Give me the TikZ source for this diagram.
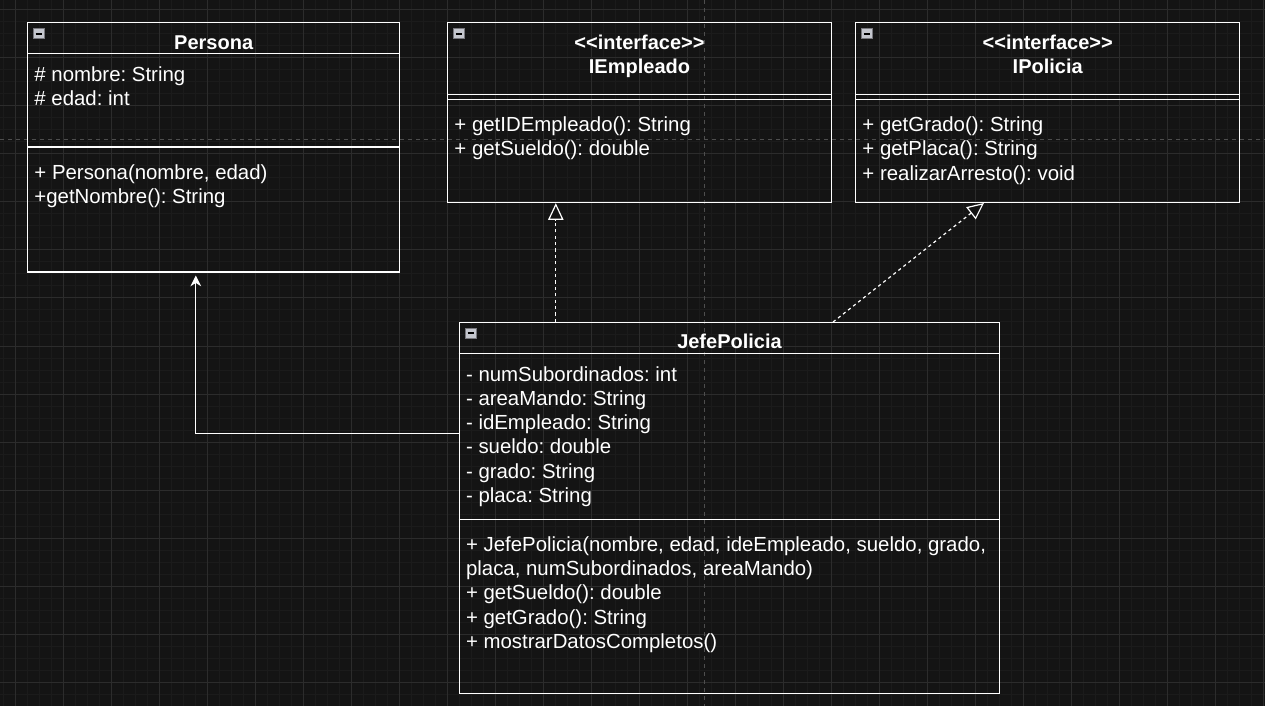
\documentclass[tikz,border=0pt]{standalone}
\usepackage{fontspec}
\setmainfont{Liberation Sans}
\usetikzlibrary{arrows.meta,fit}
\frenchspacing
\definecolor{bg}{RGB}{20,20,20}
\definecolor{gridminor}{RGB}{27,27,27}
\definecolor{gridmajor}{RGB}{44,44,44}
\definecolor{pagebreak}{RGB}{78,78,78}
\definecolor{iconfill}{RGB}{196,198,206}
\definecolor{iconedge}{RGB}{120,120,126}
\tikzset{
  umlbox/.style={draw=white, line width=1pt, inner sep=0pt, fill=none},
  sepline/.style={draw=white, line width=1pt},
  mtext/.style={text=white, inner sep=0pt, font=\fontsize{15.3}{18}\selectfont},
  ttext/.style={text=white, inner sep=0pt, font=\fontsize{15}{18}\selectfont\bfseries},
  iconbox/.style={fill=iconfill, draw=iconedge, line width=0.6pt},
  inherit/.style={draw=white, line width=0.9pt, -{Stealth[length=8pt,width=8pt,inset=2.5pt,fill=white]}},
  realize/.style={draw=white, line width=0.9pt, dash pattern=on 2.4pt off 2.4pt,
    -{Triangle[open,length=12.5pt,width=11.5pt,fill=bg,line width=0.9pt]}},
}
\newcommand\collapseicon[2]{%
  \draw[iconbox] (#1,#2) rectangle ++(11,10);
  \draw[black, line width=1.3pt] (#1+2.5,#2+5) -- ++(6,0);
}
\begin{document}
\begin{tikzpicture}[x=0.75pt,y=-0.75pt]
\fill[bg] (0,0) rectangle (1265,706);
\useasboundingbox (0,0) rectangle (1265,706);
% grid
\foreach \x in {3.3,15.3,...,1265} \draw[gridminor,line width=0.75pt] (\x,0) -- (\x,706);
\foreach \y in {10,22,...,706} \draw[gridminor,line width=0.75pt] (0,\y) -- (1265,\y);
\foreach \x in {15.3,63.3,...,1265} \draw[gridmajor,line width=0.75pt] (\x,0) -- (\x,706);
\foreach \y in {10,58,...,706} \draw[gridmajor,line width=0.75pt] (0,\y) -- (1265,\y);
% page breaks
\draw[pagebreak,line width=0.75pt,dash pattern=on 3pt off 3pt] (0,139.3) -- (1265,139.3);
\draw[pagebreak,line width=0.75pt,dash pattern=on 3pt off 3pt] (704.3,0) -- (704.3,706);

% ---------- Persona ----------
\node[umlbox, fit={(27.7,22.7) (399.7,272)}] (persona) {};
\draw[sepline] (persona.west |- 0,53.3) -- (persona.east |- 0,53.3);
\draw[sepline] (persona.west |- 0,147) -- (persona.east |- 0,147);
\collapseicon{33}{28.7}
\node[ttext, anchor=base] (persona-t) at (213.7,49.5) {Persona};
\node[mtext, anchor=base west] (persona-a1) at (34.2,81.3) {\# nombre: String};
\node[mtext, anchor=base west] (persona-a2) at (34.2,105.3) {\# edad: int};
\node[mtext, anchor=base west] (persona-m1) at (34.2,179.5) {+ Persona(nombre, edad)};
\node[mtext, anchor=base west] (persona-m2) at (34.2,203.5) {+getNombre(): String};

% ---------- IEmpleado ----------
\node[umlbox, fit={(447.7,22.3) (831.3,202.5)}] (iemp) {};
\draw[sepline] (iemp.west |- 0,94.3) -- (iemp.east |- 0,94.3);
\draw[sepline] (iemp.west |- 0,99.3) -- (iemp.east |- 0,99.3);
\collapseicon{453.3}{28.7}
\node[ttext, anchor=base] (iemp-s) at (639.5,49.3) {<\kern0pt<interface>\kern0pt>};
\node[ttext, anchor=base] (iemp-t) at (639.5,73.3) {IEmpleado};
\node[mtext, anchor=base west] (iemp-m1) at (454.2,131.5) {+ getIDEmpleado(): String};
\node[mtext, anchor=base west] (iemp-m2) at (454.2,156) {+ getSueldo(): double};

% ---------- IPolicia ----------
\node[umlbox, fit={(855.7,22.3) (1239.7,202.3)}] (ipol) {};
\draw[sepline] (ipol.west |- 0,94.3) -- (ipol.east |- 0,94.3);
\draw[sepline] (ipol.west |- 0,99.3) -- (ipol.east |- 0,99.3);
\collapseicon{861.3}{28.7}
\node[ttext, anchor=base] (ipol-s) at (1047.7,49.3) {<\kern0pt<interface>\kern0pt>};
\node[ttext, anchor=base] (ipol-t) at (1047.7,73.3) {IPolicia};
\node[mtext, anchor=base west] (ipol-m1) at (862.2,131.5) {+ getGrado(): String};
\node[mtext, anchor=base west] (ipol-m2) at (862.2,156) {+ getPlaca(): String};
\node[mtext, anchor=base west] (ipol-m3) at (862.2,180.5) {+ realizarArresto(): void};

% ---------- JefePolicia ----------
\node[umlbox, fit={(459.2,322.7) (999.7,693.7)}] (jefe) {};
\draw[sepline] (jefe.west |- 0,353.3) -- (jefe.east |- 0,353.3);
\draw[sepline] (jefe.west |- 0,519.3) -- (jefe.east |- 0,519.3);
\collapseicon{465}{328.3}
\node[ttext, anchor=base] (jefe-t) at (729.5,349) {JefePolicia};
\node[mtext, anchor=base west] (jefe-a1) at (465.8,381) {- numSubordinados: int};
\node[mtext, anchor=base west] (jefe-a2) at (465.8,405.3) {- areaMando: String};
\node[mtext, anchor=base west] (jefe-a3) at (465.8,429.6) {- idEmpleado: String};
\node[mtext, anchor=base west] (jefe-a4) at (465.8,453.9) {- sueldo: double};
\node[mtext, anchor=base west] (jefe-a5) at (465.8,478.2) {- grado: String};
\node[mtext, anchor=base west] (jefe-a6) at (465.8,502.5) {- placa: String};
\node[mtext, anchor=base west] (jefe-m1) at (465.8,551.7) {+ JefePolicia(nombre, edad, ideEmpleado, sueldo, grado,};
\node[mtext, anchor=base west] (jefe-m2) at (465.8,575.8) {placa, numSubordinados, areaMando)};
\node[mtext, anchor=base west] (jefe-m3) at (465.8,599.9) {+ getSueldo(): double};
\node[mtext, anchor=base west] (jefe-m4) at (465.8,624) {+ getGrado(): String};
\node[mtext, anchor=base west] (jefe-m5) at (465.8,648.1) {+ mostrarDatosCompletos()};

% ---------- connectors ----------
\draw[inherit, shorten >=2.2pt] (jefe.west |- 0,433.7) -| (persona.south -| 195.8,0);
\draw[realize] (jefe.north -| 555.8,0) -- (iemp.south -| 555.8,0);
\draw[realize] (jefe.north -| 833,0) -- (ipol.south -| 984,0);
\end{tikzpicture}
\end{document}
